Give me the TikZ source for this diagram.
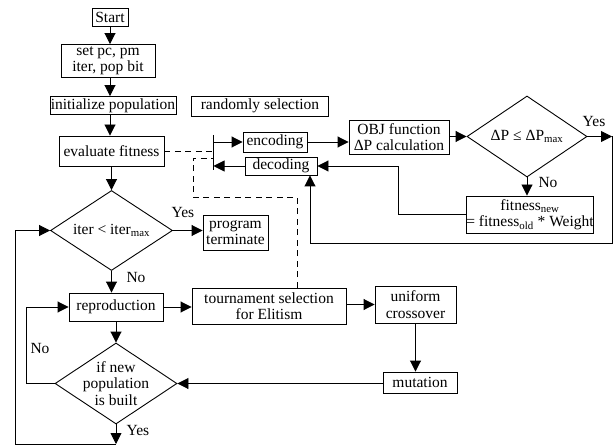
\documentclass[tikz,border=0pt]{standalone}
\usepackage{fontspec}
\setmainfont{Liberation Serif}
\usetikzlibrary{arrows.meta,shapes.geometric,calc}
\begin{document}
\begin{tikzpicture}[x=1pt,y=-1pt,
  font=\fontsize{15.5}{16.5}\selectfont,
  line width=0.9pt,
  box/.style={draw, rectangle, inner sep=0pt, align=center},
  dia/.style={draw, diamond, inner sep=0pt},
  arr/.style={-{Triangle[length=11pt,width=11pt]}},
  dashline/.style={dash pattern=on 6pt off 4.5pt},
  lbl/.style={inner sep=0pt}
]
\useasboundingbox (0,0) rectangle (615,446);

% main column
\node[box, minimum width=36pt, minimum height=18pt] (start) at (110,17.5) {Start};
\node[box, minimum width=94pt, minimum height=33pt] (set) at (108,61) {set pc, pm\\iter, pop bit};
\node[box, minimum width=126pt, minimum height=18pt] (init) at (113,105.5) {initialize population};
\node[box, minimum width=137pt, minimum height=20pt] (rand) at (260,106) {randomly selection};
\node[box, minimum width=105pt, minimum height=30pt] (eval) at (111.5,151) {evaluate fitness};

\node[dia, minimum width=122pt, minimum height=80pt] (d1) at (111.5,230.5) {};
\node[lbl] (d1t) at (d1) {iter < iter\textsubscript{max}};
\node[box, minimum width=65pt, minimum height=35pt] (term) at (235.5,232.5) {program\\terminate};

\node[box, minimum width=94pt, minimum height=28pt] (rep) at (116,307) {reproduction};
\node[box, minimum width=154pt, minimum height=36pt] (tour) at (269,306) {tournament selection\\for Elitism};
\node[box, minimum width=81pt, minimum height=37pt] (uni) at (415.5,304.5) {uniform\\crossover};
\node[box, minimum width=74pt, minimum height=21pt] (mut) at (420,382.5) {mutation};

\node[dia, minimum width=122pt, minimum height=81pt] (d2) at (116,383.5) {};
\node[lbl, align=center] (d2t) at (d2) {if new\\population\\is built};

% encoding / evaluation loop
\node[box, minimum width=64pt, minimum height=20pt] (enc) at (275,142) {encoding};
\node[box, minimum width=72pt, minimum height=18pt] (dec) at (281,166) {decoding};
\node[box, minimum width=100pt, minimum height=34pt] (obj) at (399,137) {OBJ function\\ΔP calculation};
\node[dia, minimum width=120pt, minimum height=81pt] (dP) at (527,136.5) {};
\node[lbl] (dPt) at (dP) {ΔP ≤ ΔP\textsubscript{max}};
\node[box, minimum width=124pt, minimum height=37pt] (fit) at (530,214.5) {fitness\textsubscript{new}\\= fitness\textsubscript{old} * Weight};

% junction bar
\coordinate (barT) at (213.5,135);
\coordinate (barB) at (213.5,170);
\draw (barT) -- (barB);

% free corners
\coordinate (yb) at (116,444);
\coordinate (cL) at (15,444);
\coordinate (noL) at (26,383.5);
\coordinate (dA) at (297,197);
\coordinate (dB) at (193,197);
\coordinate (dC) at (193,158);
\coordinate (rY) at (612,136.5);
\coordinate (rB) at (612,243);
\coordinate (fL) at (398,214.5);

% main flow
\draw[arr] (start.south) -- (start.south |- set.north);
\draw[arr] (set.south -| start.south) -- (start.south |- init.north);
\draw[arr] (init.south -| start.south) -- (start.south |- eval.north);
\draw[arr] (eval.south -| d1.north) -- (d1.north);
\draw[arr] (d1.east) -- (term.west |- d1.east);
\draw[arr] (d1.south) -- (d1.south |- rep.north);
\draw[arr] (rep.east) -- (tour.west |- rep.east);
\draw[arr] (tour.east |- uni.west) -- (uni.west);
\draw[arr] (uni.south) -- (uni.south |- mut.north);
\draw[arr] (mut.west |- d2.east) -- (d2.east);
\draw[arr] (rep.south -| d2.north) -- (d2.north);
\draw[arr] (d2.west) -- (noL) |- (rep.west);
\draw[arr] (d2.south) -- (yb);
\draw[arr] (yb) -- (cL) |- (d1.west);

% dashed links
\draw[dashline] (eval.east) -- (eval.east -| barT);
\draw[dashline] ($(tour.north)+(28,0)$) -- (dA) -- (dB) -- (dC) -- (dC -| barT);

% encoding / decoding loop
\draw[arr] (barT |- enc.west) -- (enc.west);
\draw[arr] (dec.west) -- (dec.west -| barT);
\draw[arr] (enc.east) -- (enc.east -| obj.west);
\draw[arr] (obj.east |- dP.west) -- (dP.west);
\draw[arr] (dP.east) -- (rY);
\draw[arr] (rY) -- (rB) -| ($(dec.south)+(29,0)$);
\draw[arr] (dP.south) -- (dP.south |- fit.north);
\draw[arr] (fit.west) -- (fL) |- (dec.east);

% branch labels
\node[lbl] at (183,213) {Yes};
\node[lbl] at (136,278) {No};
\node[lbl] at (40,348) {No};
\node[lbl] at (138,430) {Yes};
\node[lbl] at (594,122) {Yes};
\node[lbl] at (548,183) {No};
\end{tikzpicture}
\end{document}
